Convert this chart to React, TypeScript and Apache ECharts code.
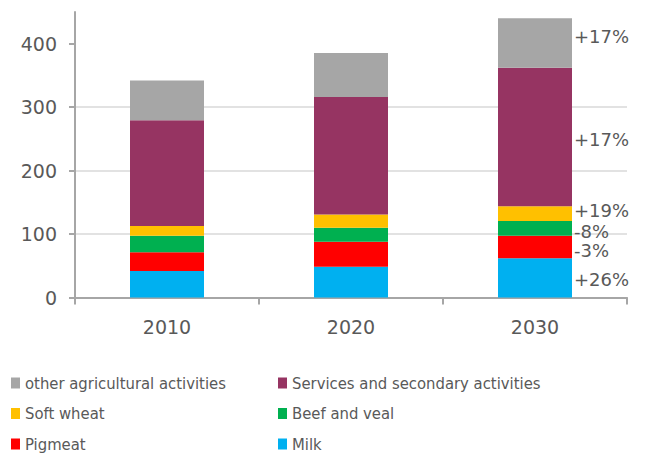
import React, { useEffect, useRef } from 'react';
import * as echarts from 'echarts';

const categories = ['2010', '2020', '2030'];
const milk = [42, 48.5, 62];
const pigmeat = [29.5, 39.5, 35.5];
const beefVeal = [26, 22, 23];
const softWheat = [15.5, 21, 23.5];
const services = [166.5, 185, 218];
const otherAgri = [62.5, 69.5, 78];
const changeLabels = ['+26%', '-3%', '-8%', '+19%', '+17%', '+17%'];
const yTicks = [0, 100, 200, 300, 400];

const seriesDefs = [
  { name: 'Milk', data: milk, color: '#00b0f0', off: 2 },
  { name: 'Pigmeat', data: pigmeat, color: '#ff0000', off: 4 },
  { name: 'Beef and veal', data: beefVeal, color: '#00b050', off: 3 },
  { name: 'Soft wheat', data: softWheat, color: '#ffc000', off: -3 },
  { name: 'Services and secondary activities', data: services, color: '#963462', off: 2 },
  { name: 'other agricultural activities', data: otherAgri, color: '#a6a6a6', off: -7 },
];

const textColor = '#595959';
const numFont = "'DejaVu Sans', sans-serif";
const legendFont = "'DejaVu Sans Condensed', 'Liberation Sans', sans-serif";

export default function App() {
  const ref = useRef<HTMLDivElement>(null);
  useEffect(() => {
    if (!ref.current) return;
    const chart = echarts.init(ref.current, null, { renderer: 'svg' });
    const legendBase = {
      orient: 'vertical',
      top: 373,
      height: 100,
      padding: 0,
      icon: 'rect',
      itemWidth: 9,
      itemHeight: 11,
      itemGap: 10.5,
      textStyle: { fontSize: 16.5, lineHeight: 20, color: textColor, fontFamily: legendFont },
    };
    chart.setOption({
      animation: false,
      grid: { left: 75, right: 22, top: 12, bottom: 159.4 },
      legend: [
        { ...legendBase, left: 11, data: ['other agricultural activities', 'Soft wheat', 'Pigmeat'] },
        { ...legendBase, left: 278, data: ['Services and secondary activities', 'Beef and veal', 'Milk'] },
      ],
      xAxis: {
        type: 'category',
        data: categories,
        axisLine: { lineStyle: { color: '#a6a6a6', width: 2 } },
        axisTick: { show: true, interval: 0, length: 7, lineStyle: { color: '#a6a6a6', width: 2 } },
        axisLabel: { margin: 20, fontSize: 19, color: textColor, fontFamily: numFont },
      },
      yAxis: {
        type: 'value',
        min: 0,
        max: 450,
        interval: 100,
        axisLine: { show: true, lineStyle: { color: '#a6a6a6', width: 2 } },
        axisTick: { show: true, length: 6, customValues: yTicks, lineStyle: { color: '#a6a6a6', width: 2 } },
        axisLabel: { margin: 18, fontSize: 19, color: textColor, fontFamily: numFont, customValues: yTicks },
        splitLine: { show: true, showMaxLine: false, lineStyle: { color: '#d9d9d9', width: 1.5 } },
      },
      series: seriesDefs.map((s, si) => ({
        name: s.name,
        type: 'bar',
        stack: 'total',
        barWidth: 74,
        itemStyle: { color: s.color },
        data: s.data.map((v, i) =>
          i === categories.length - 1
            ? {
                value: v,
                label: {
                  show: true,
                  position: 'right',
                  distance: 2,
                  offset: [0, s.off],
                  formatter: changeLabels[si],
                  fontSize: 18,
                  color: textColor,
                  fontFamily: numFont,
                },
              }
            : v
        ),
      })),
    });
    return () => chart.dispose();
  }, []);
  return <div ref={ref} style={{ position: 'absolute', left: 0, top: 0, width: 649, height: 457 }} />;
}
